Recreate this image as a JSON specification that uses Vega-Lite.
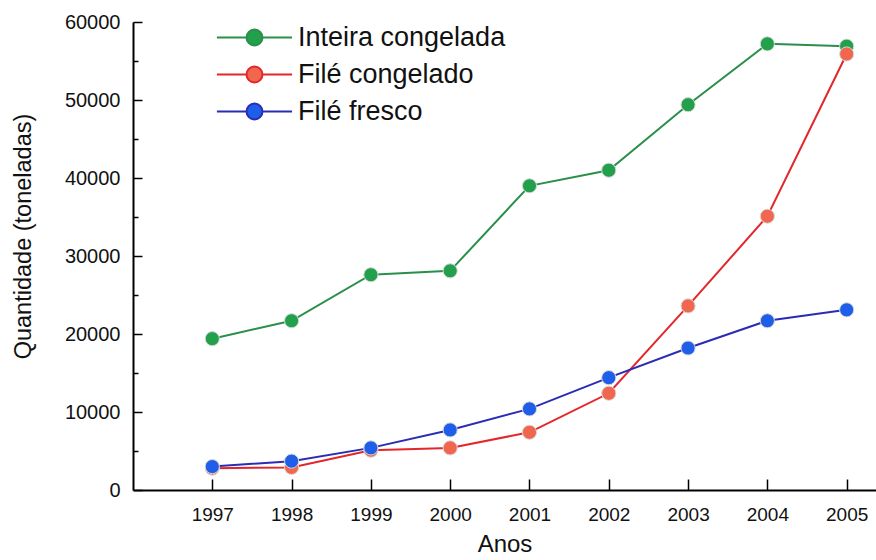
{
  "$schema": "https://vega.github.io/schema/vega-lite/v6.json",
  "width": 743,
  "height": 468,
  "autosize": {"type": "none"},
  "padding": {"left": 133, "top": 22, "right": 0, "bottom": 70},
  "background": "white",
  "config": {
    "view": {"stroke": null},
    "font": "Liberation Sans",
    "axis": {"grid": false, "domainColor": "#000000", "tickColor": "#000000", "labelColor": "#111111", "titleColor": "#111111", "labelFont": "Liberation Sans", "titleFont": "Liberation Sans", "titleFontWeight": "normal"}
  },
  "data": {
    "values": [
      {"ano": 1997, "serie": "Inteira congelada", "valor": 19400},
      {"ano": 1998, "serie": "Inteira congelada", "valor": 21700},
      {"ano": 1999, "serie": "Inteira congelada", "valor": 27600},
      {"ano": 2000, "serie": "Inteira congelada", "valor": 28100},
      {"ano": 2001, "serie": "Inteira congelada", "valor": 39000},
      {"ano": 2002, "serie": "Inteira congelada", "valor": 41000},
      {"ano": 2003, "serie": "Inteira congelada", "valor": 49400},
      {"ano": 2004, "serie": "Inteira congelada", "valor": 57200},
      {"ano": 2005, "serie": "Inteira congelada", "valor": 56900},
      {"ano": 1997, "serie": "Filé congelado", "valor": 2800},
      {"ano": 1998, "serie": "Filé congelado", "valor": 2900},
      {"ano": 1999, "serie": "Filé congelado", "valor": 5100},
      {"ano": 2000, "serie": "Filé congelado", "valor": 5400},
      {"ano": 2001, "serie": "Filé congelado", "valor": 7400},
      {"ano": 2002, "serie": "Filé congelado", "valor": 12400},
      {"ano": 2003, "serie": "Filé congelado", "valor": 23600},
      {"ano": 2004, "serie": "Filé congelado", "valor": 35100},
      {"ano": 2005, "serie": "Filé congelado", "valor": 55900},
      {"ano": 1997, "serie": "Filé fresco", "valor": 3000},
      {"ano": 1998, "serie": "Filé fresco", "valor": 3700},
      {"ano": 1999, "serie": "Filé fresco", "valor": 5400},
      {"ano": 2000, "serie": "Filé fresco", "valor": 7700},
      {"ano": 2001, "serie": "Filé fresco", "valor": 10400},
      {"ano": 2002, "serie": "Filé fresco", "valor": 14400},
      {"ano": 2003, "serie": "Filé fresco", "valor": 18200},
      {"ano": 2004, "serie": "Filé fresco", "valor": 21700},
      {"ano": 2005, "serie": "Filé fresco", "valor": 23100}
    ]
  },
  "layer": [
    {
      "mark": {"type": "line", "strokeWidth": 2},
      "encoding": {
        "x": {
          "field": "ano", "type": "quantitative",
          "scale": {"domain": [1996, 2005.37], "nice": false, "zero": false},
          "axis": {"values": [1997, 1998, 1999, 2000, 2001, 2002, 2003, 2004, 2005], "format": "d", "title": "Anos", "titleFontSize": 24, "titlePadding": 8, "labelFontSize": 19, "labelPadding": 26, "tickSize": -11, "tickWidth": 1.5, "domainWidth": 2, "labelFlush": false, "labelOverlap": false}
        },
        "y": {
          "field": "valor", "type": "quantitative",
          "scale": {"domain": [0, 60000], "nice": false},
          "axis": {"values": [0, 10000, 20000, 30000, 40000, 50000, 60000], "format": "d", "title": "Quantidade (toneladas)", "titleFontSize": 23.5, "titlePadding": 29, "titleY": 214, "labelFontSize": 20, "labelPadding": 22, "tickSize": -9, "tickWidth": 1.5, "domainWidth": 2, "labelFlush": false}
        },
        "stroke": {
          "field": "serie", "type": "nominal",
          "scale": {"domain": ["Inteira congelada", "Filé congelado", "Filé fresco"], "range": ["#2a8f4a", "#e3262a", "#2b2bb5"]},
          "legend": {"title": null, "orient": "none", "legendX": 108, "legendY": 2, "labelFontSize": 27, "labelLimit": 400, "labelColor": "#111111", "labelOffset": 30, "rowPadding": 9, "symbolSize": 256, "symbolStrokeWidth": 2, "symbolType": "M-1,0 A1,1 0 1,1 1,0 A1,1 0 1,1 -1,0 Z M-4.7,0 L-1,0 M1,0 L4.7,0"}
        }
      }
    },
    {
      "mark": {"type": "point", "filled": true, "size": 200, "stroke": "#d8d8d8", "strokeWidth": 1, "opacity": 1},
      "encoding": {
        "x": {"field": "ano", "type": "quantitative"},
        "y": {
          "field": "valor", "type": "quantitative",
          "axis": {"orient": "left", "values": [5000, 15000, 25000, 35000, 45000, 55000], "labels": false, "domain": false, "title": null, "tickSize": -5, "tickWidth": 1.5}
        },
        "fill": {
          "field": "serie", "type": "nominal",
          "scale": {"domain": ["Inteira congelada", "Filé congelado", "Filé fresco"], "range": ["#22a04b", "#f0664f", "#1e5ee8"]},
          "legend": {"title": null, "orient": "none", "legendX": 108, "legendY": 2, "labelFontSize": 27, "labelLimit": 400, "labelColor": "#111111", "labelOffset": 30, "rowPadding": 9, "symbolSize": 256, "symbolStrokeWidth": 2, "symbolType": "M-1,0 A1,1 0 1,1 1,0 A1,1 0 1,1 -1,0 Z M-4.7,0 L-1,0 M1,0 L4.7,0"}
        }
      }
    }
  ],
  "resolve": {"axis": {"y": "independent"}}
}
